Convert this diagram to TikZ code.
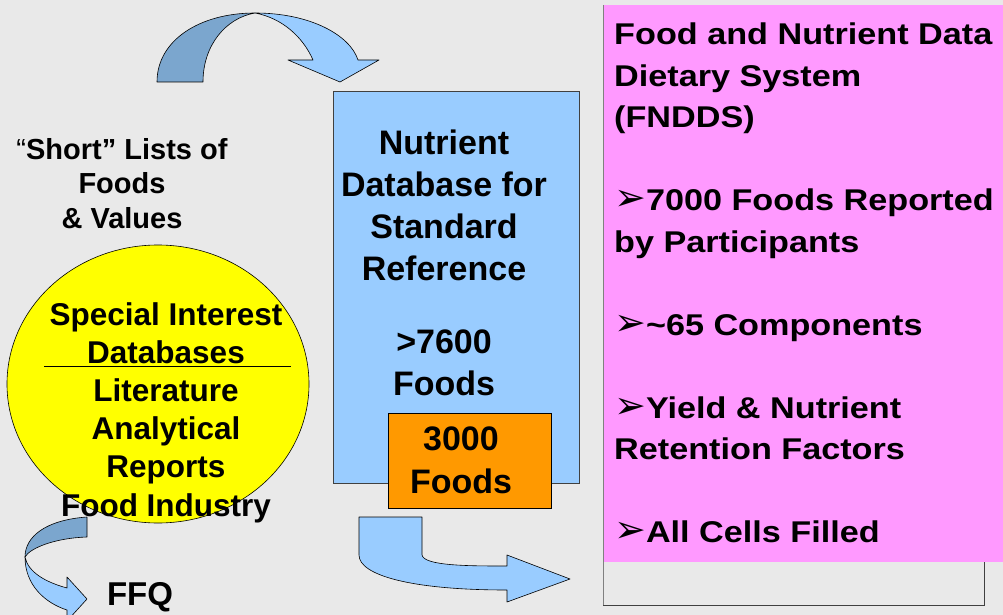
\documentclass[tikz,border=0pt]{standalone}
\usepackage{fontspec}
\setmainfont{Liberation Sans}
\newfontfamily\wideface[FakeStretch=1.14]{Liberation Sans}
\newfontfamily\dingface{DejaVu Sans}
\usepackage{xcolor}
\definecolor{slideGray}{HTML}{E9E9E9}
\definecolor{skyBlue}{HTML}{99CCFF}
\definecolor{steelBlue}{HTML}{7BA6CE}
\definecolor{sunYellow}{HTML}{FFFF00}
\definecolor{boxOrange}{HTML}{FF9900}
\definecolor{fnddsPink}{HTML}{FF99FF}
\definecolor{edgeGray}{HTML}{404040}
\usetikzlibrary{shapes.geometric}
\newcommand{\arrowbullet}{{\dingface\fontsize{38}{38}\selectfont ➢}}
\newcommand{\pxfont}[2]{\fontsize{#1}{#2}\selectfont\bfseries}
\tikzset{
    % Bold slide text, set in px-sized points
    slide text/.style={
        text=black,
        inner sep=0pt,
        align=center,
        anchor=north,
    },
    % Plain boxes, placed by their top left corner
    slide box/.style={
        rectangle,
        anchor=north west,
        inner sep=0pt,
        line width=0.6pt,
    },
    % Block arrows
    block arrow/.style={
        fill=skyBlue,
        draw=black,
        line width=0.6pt,
        line join=round,
    },
    block arrow back/.style={
        block arrow,
        fill=steelBlue,
    },
}
\begin{document}
\begin{tikzpicture}[x=1pt, y=-1pt]
    \fill[slideGray] (0,0) rectangle (1003,615);
    \useasboundingbox (0,0) rectangle (1003,615);

    % FNDDS panel
    \draw[edgeGray, line width=0.8pt] (603,5) rectangle (984,605);
    \node (fndds) [slide box, fill=fnddsPink, minimum width=400, minimum height=557] at (603,5) {};
    \draw[gray, line width=1pt] (fndds.north west) -- (603,605);

    % SR database with its subset
    \node (sr) [slide box, fill=skyBlue, draw=edgeGray, minimum width=246, minimum height=392] at (333,91) {};
    \node (subset) [slide box, fill=boxOrange, draw=black, minimum width=163, minimum height=95] at (388,413) {};

    % special interest sources
    \node (sources) [ellipse, draw=black, line width=0.6pt, fill=sunYellow, minimum width=302, minimum height=278] at (158,384) {};
    \draw[line width=0.8pt] (44,366) -- (291,366);

    % arrow over the top into SR
    \path[block arrow] (255,13) .. controls (310,13) and (350,35) .. (358,60) -- (379,60) -- (340,82)
        -- (288,60) -- (313,60) .. controls (303,37) and (282,18) .. (255,13) -- cycle;
    \path[block arrow back] (157,82) .. controls (157,40) and (200,13) .. (255,13)
        .. controls (226,18) and (203,45) .. (203,82) -- cycle;

    % arrow down to FFQ
    \path[block arrow] (25,557) .. controls (25,585) and (45,603) .. (67,610) -- (67,621) -- (87,599)
        -- (67,577) -- (67,588) .. controls (45,582) and (28,572) .. (25,557) -- cycle;
    \path[block arrow back] (87,517) .. controls (45,520) and (25,537) .. (25,557)
        .. controls (30,548) and (55,538) .. (87,537) -- cycle;

    % arrow from SR into FNDDS
    \path[block arrow] (359,517) -- (422,517) -- (422,555) .. controls (424,566) and (470,566) .. (507,566)
        -- (507,555) -- (570,579) -- (507,602) -- (507,590) .. controls (410,590) and (359,575) .. (359,555) -- cycle;

    % texts
    \node (shortlists) [slide text, font=\pxfont{29}{34.5}] at (122,138) {\textmd{“}Short” Lists of\\Foods\\\& Values};
    \node (sourcestext) [slide text, font=\pxfont{31.5}{38.2}] at (166,302) {Special Interest\\Databases\\Literature\\Analytical\\Reports\\Food Industry};
    \node (srtext) [slide text, font=\pxfont{34}{42}] at (444,130) {Nutrient\\Database for\\Standard\\Reference\\[31pt]>7600\\Foods};
    \node (subsettext) [slide text, font=\pxfont{34}{43}] at (461,427) {3000\\Foods};
    \node (ffq) [slide text, font=\pxfont{33}{40}] at (140,582) {FFQ};
    \node (fnddstext) [slide text, anchor=north west, align=left, font=\wideface\pxfont{30}{41.5}] at (614,23)
        {Food and Nutrient Data\\Dietary System\\(FNDDS)\\[41.5pt]
         \arrowbullet 7000 Foods Reported\\by Participants\\[41.5pt]
         \arrowbullet\textasciitilde65 Components\\[41.5pt]
         \arrowbullet Yield \& Nutrient\\Retention Factors\\[41.5pt]
         \arrowbullet All Cells Filled};
\end{tikzpicture}
\end{document}
